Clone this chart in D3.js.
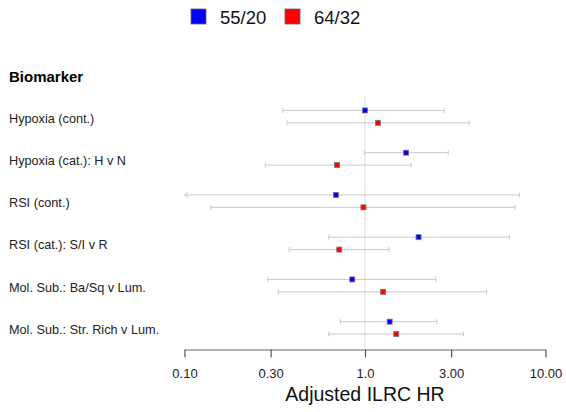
<!DOCTYPE html>
<html>
<head>
<meta charset="utf-8">
<script src="https://cdn.jsdelivr.net/npm/d3@7/dist/d3.min.js"></script>
<style>
  html, body { margin: 0; padding: 0; background: #fff; }
  svg { display: block; font-family: "Liberation Sans", Arial, sans-serif; }
</style>
</head>
<body>
<svg id="chart" width="566" height="412"></svg>
<script>
// Biomarkers (rows, top to bottom)
const biomarkers = [
  "Hypoxia (cont.)",
  "Hypoxia (cat.): H v N",
  "RSI (cont.)",
  "RSI (cat.): S/I v R",
  "Mol. Sub.: Ba/Sq v Lum.",
  "Mol. Sub.: Str. Rich v Lum."
];
const seriesNames = ["55/20", "64/32"];
const seriesColors = ["#0000ff", "#ff0000"];

// Adjusted ILRC hazard ratios with 95% CI, one array per series
const hr5520    = [1.00, 1.69, 0.69, 1.98, 0.85, 1.37];
const lower5520 = [0.35, 0.99, 0.05, 0.63, 0.29, 0.73];
const upper5520 = [2.75, 2.89, 7.16, 6.30, 2.47, 2.50];

const hr6432    = [1.18, 0.70, 0.98, 0.72, 1.26, 1.49];
const lower6432 = [0.37, 0.28, 0.14, 0.38, 0.33, 0.63];
const upper6432 = [3.78, 1.80, 6.78, 1.36, 4.72, 3.51];

const tickValues = [0.1, 0.3, 1.0, 3.0, 10.0];
const tickLabels = ["0.10", "0.30", "1.0", "3.00", "10.00"];

const series = [
  { name: seriesNames[0], color: seriesColors[0], hr: hr5520, lo: lower5520, hi: upper5520 },
  { name: seriesNames[1], color: seriesColors[1], hr: hr6432, lo: lower6432, hi: upper6432 }
];

const svg = d3.select("#chart");

const x = d3.scaleLog().domain([0.1, 10]).range([184.5, 545.5]);
const y = d3.scaleBand().domain(biomarkers).range([95.5, 349]).paddingInner(0).paddingOuter(0);
const offset = d3.scalePoint().domain(seriesNames).range([-6.2, 6.2]);

// Reference line at HR = 1
svg.append("line")
  .attr("x1", x(1)).attr("x2", x(1))
  .attr("y1", 95).attr("y2", 349)
  .attr("stroke", "#dcdcdc").attr("stroke-width", 1);

// Header
svg.append("text")
  .attr("x", 9).attr("y", 81.5)
  .attr("font-size", 15).attr("font-weight", "bold")
  .attr("fill", "#000")
  .text("Biomarker");

// Row labels
svg.append("g").selectAll("text")
  .data(biomarkers).join("text")
  .attr("x", 9)
  .attr("y", d => y(d) + y.bandwidth() / 2 + 6)
  .attr("font-size", 12.7)
  .attr("fill", "#222")
  .text(d => d);

const [xmin, xmax] = x.domain();

series.forEach(s => {
  const g = svg.append("g");
  const rows = biomarkers.map((b, i) => ({
    b, hr: s.hr[i], lo: s.lo[i], hi: s.hi[i],
    cy: y(b) + y.bandwidth() / 2 + offset(s.name)
  }));

  // CI whiskers
  g.selectAll("line.ci").data(rows).join("line")
    .attr("class", "ci")
    .attr("x1", d => x(Math.max(d.lo, xmin)))
    .attr("x2", d => x(Math.min(d.hi, xmax)))
    .attr("y1", d => d.cy).attr("y2", d => d.cy)
    .attr("stroke", "#c8c8c8").attr("stroke-width", 1);

  // Caps (or arrows when the interval runs past the axis)
  rows.forEach(d => {
    [[d.lo, -1], [d.hi, 1]].forEach(([v, dir]) => {
      if ((dir < 0 && v < xmin) || (dir > 0 && v > xmax)) {
        const ex = x(dir < 0 ? xmin : xmax);
        g.append("path")
          .attr("d", `M${ex - dir * 4},${d.cy - 3} L${ex},${d.cy} L${ex - dir * 4},${d.cy + 3}`)
          .attr("fill", "none").attr("stroke", "#c8c8c8").attr("stroke-width", 1);
      } else {
        g.append("line")
          .attr("x1", x(v)).attr("x2", x(v))
          .attr("y1", d.cy - 2.5).attr("y2", d.cy + 2.5)
          .attr("stroke", "#c8c8c8").attr("stroke-width", 1);
      }
    });
  });

  // Point estimates
  g.selectAll("rect.pt").data(rows).join("rect")
    .attr("class", "pt")
    .attr("x", d => x(d.hr) - 2.5)
    .attr("y", d => d.cy - 2.5)
    .attr("width", 5).attr("height", 5)
    .attr("fill", s.color)
    .attr("stroke", "#777").attr("stroke-width", 0.8);
});

// X axis
const axis = d3.axisBottom(x)
  .tickValues(tickValues)
  .tickFormat((d, i) => tickLabels[i])
  .tickSizeOuter(0)
  .tickSizeInner(8)
  .tickPadding(11);

const ax = svg.append("g")
  .attr("transform", "translate(0,349.5)")
  .call(axis);
ax.select(".domain").attr("stroke", "#666").attr("stroke-width", 1.2);
ax.selectAll(".tick line").attr("stroke", "#555").attr("stroke-width", 1.2);
ax.selectAll(".tick text")
  .attr("font-size", 13)
  .attr("font-family", "Liberation Sans, Arial, sans-serif")
  .attr("fill", "#222");

svg.append("text")
  .attr("x", x(1)).attr("y", 401)
  .attr("text-anchor", "middle")
  .attr("font-size", 19.5)
  .attr("fill", "#111")
  .text("Adjusted ILRC HR");

// Legend
const legendX = [191, 285];
const lg = svg.append("g").selectAll("g")
  .data(series).join("g")
  .attr("transform", (d, i) => `translate(${legendX[i]},9)`);
lg.append("rect")
  .attr("width", 15).attr("height", 15)
  .attr("fill", d => d.color)
  .attr("stroke", "#666").attr("stroke-width", 0.8);
lg.append("text")
  .attr("x", 29).attr("y", 14.5)
  .attr("font-size", 18.5)
  .attr("fill", "#111")
  .text(d => d.name);
</script>
</body>
</html>
